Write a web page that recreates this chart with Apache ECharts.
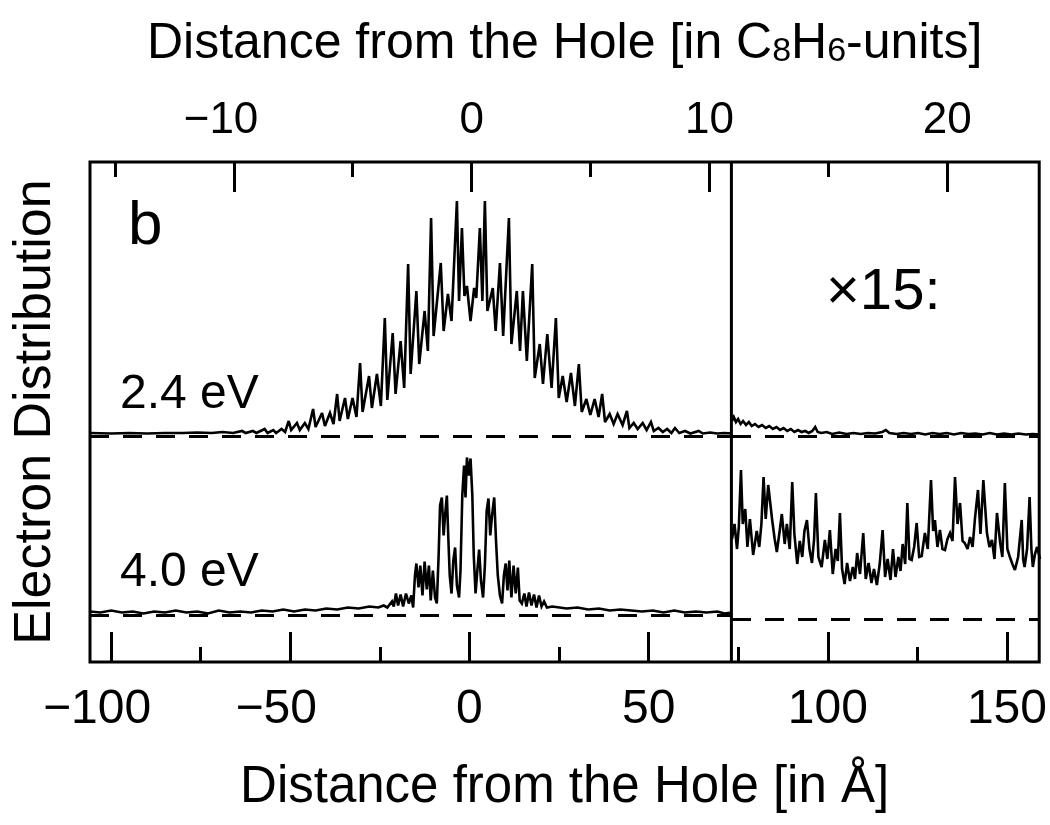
<!DOCTYPE html>
<html>
<head>
<meta charset="utf-8">
<script src="https://cdn.jsdelivr.net/npm/echarts@6.0.0/dist/echarts.min.js"></script>
<style>
html,body{margin:0;padding:0;background:#fff;}
#chart{width:1050px;height:825px;}
</style>
</head>
<body>
<div id="chart"></div>
<script>
// ---------- DATA ----------
// Distance axis range (Angstrom) and the boundary of the x15 magnified zone
const distanceRange = [-105.9, 159];
const dividerAngstrom = 73.1;
// C8H6-unit axis range (top axis)
const unitRange = [-16.05, 23.87];

const angstromMajorTicks = [-100, -50, 0, 50, 100, 150];
const angstromMinorTicks = [-75, -25, 25, 75, 125];
const unitMajorTicks = [-10, 0, 10, 20];
const unitMinorTicks = [-15, -5, 5, 15];

// 2.4 eV electron distribution (arb. units above its baseline), left part
const eV24Left = [
[-105.9,3],[-100,2.5],[-95,3],[-90,2.5],[-85,3],[-80,3],[-76,3.5],[-72,3],[-69,4],[-66,3],[-63.5,5],[-62.5,3],[-60.5,5],[-59.5,3],[-57.2,7],[-56.4,3],[-54.8,6],[-54,3],[-52.5,7],[-51.5,4],
[-50.5,15],[-49.8,6],[-48.2,13],[-47.4,6],[-46,13],[-45,7],
[-43.7,27],[-43,9],[-41.2,23],[-40.4,10],[-39,23],[-38,12],
[-37,42],[-36.3,15],[-34.8,38],[-34,17],[-32.7,38],[-31.6,19],
[-30.6,73],[-29.9,24],[-28.1,60],[-27.3,28],[-25.9,62],[-24.8,30],
[-23.7,118],[-23,36],[-21.5,103],[-20.7,42],[-19.3,95],[-18.3,48],
[-17.2,172],[-16.5,62],[-14.9,145],[-14.1,72],[-12.6,125],[-11.7,85],
[-10.8,218],[-10.1,100],[-8.1,173],[-7.3,105],[-6.1,142],[-5.1,115],
[-3.6,235],[-3.0,135],[-2.2,208],[-1.5,140],[-0.8,150],[0.2,115],[1.2,148],[1.8,138],[2.8,208],[3.5,135],[4.2,235],[4.9,125],
[6.4,148],[7.2,105],[8.4,173],[9.3,100],[10.9,218],[11.6,92],[13.1,145],[14.0,85],[14.8,145],[15.9,75],
[17.4,172],[18.1,58],[19.5,92],[20.4,52],[21.6,102],[22.8,48],
[24.0,118],[24.8,38],[25.9,60],[27.0,34],[28.2,63],[29.3,30],
[30.4,72],[31.2,24],[32.5,37],[33.6,21],[34.8,37],[35.9,19],
[36.9,42],[37.7,14],[39,22],[40.1,12],[41.2,22],[42.6,11],
[43.8,25],[44.5,8],[45.7,13],[46.8,7],[48.2,13],[49.3,6],
[50.5,14],[51.3,5],[52.6,8],[53.8,4],[55,7],[56.2,3],
[57.2,8],[58.4,3],[60,5],[61.5,2.5],[63.8,5],[65,2.5],[67,3.5],[69,2.5],[71,3],[73.1,2.5]
];

// 2.4 eV, right part as displayed (magnified x15)
const eV24RightX15 = [
[73.1,15],[73.6,19],[74.2,14],[74.8,17],[75.5,12],[76.2,15],[77,11],[77.8,14],[78.6,10],[79.5,12],[80.5,9],[81.5,11],[82.5,8],[83.5,10],[84.5,7],[85.5,9],[86.5,6],[87.5,8],[88.5,5],[89.5,7],[90.5,4],[91.5,6],[92.5,4],[93.5,5],[94.5,3],[95.5,5],[96.3,9],[97,4],[98,3],[99.5,4],[101,2],[103,3.5],[105,2],[107,3],[109,2],[111,3],[113,2.5],[115,4],[116,6],[117,3],[119,2],[121,3],[123,2],[125,3],[127,1.5],[129,3],[131,2],[133,3],[135,1.5],[137,3],[139,2],[141,2.5],[143,1.5],[145,3],[147,1.5],[149,2.5],[151,1.5],[153,2.5],[155,1.5],[157,2],[159,1.5]
];

// 4.0 eV electron distribution, left part
const eV40Left = [
[-105.9,4],[-103,3],[-100,5],[-97,3],[-94,4],[-91,2],[-88,4],[-85,3],[-82,5],[-79,3],[-76,4],[-73,2],[-70,5],[-67,3],[-64,4],[-61,3],[-58,5],[-55,4],[-52,6],[-49,4],[-46,6],[-43,5],[-40,7],[-37,6],[-34,8],[-31,7],[-28,9],[-25.5,8],[-24,10],[-23,8],
[-21.7,14],[-21.2,9],[-20.6,22],[-20.0,10],[-19.3,21],[-18.6,9],[-17.8,22],[-17.0,12],[-16.3,20],[-15.8,8],
[-15.3,40],[-14.9,52],[-14.3,28],[-13.8,50],[-13.2,20],[-12.6,54],[-12.0,26],[-11.4,50],[-10.9,15],[-10.3,45],[-9.7,18],[-9.2,12],
[-8.7,60],[-8.3,110],[-7.8,118],[-7.3,80],[-6.9,100],[-6.4,120],[-6.0,78],[-5.6,40],[-5.1,22],[-4.6,55],[-4.1,68],[-3.6,30],[-3.0,18],
[-2.6,45],[-2.1,120],[-1.6,150],[-1.2,118],[-0.8,158],[-0.3,140],[0.2,157],[0.7,120],[1.1,60],[1.6,22],[2.1,45],[2.6,66],[3.1,35],[3.7,18],
[4.2,50],[4.7,105],[5.2,117],[5.7,80],[6.2,100],[6.8,118],[7.3,75],[7.8,40],[8.4,20],[9.0,12],
[9.5,40],[10.0,52],[10.5,25],[11.0,55],[11.6,18],[12.2,50],[12.8,22],[13.4,48],[13.9,15],[14.5,12],
[15.2,22],[15.8,9],[16.5,23],[17.2,10],[17.9,21],[18.6,8],[19.3,20],[20.0,9],[20.7,14],[21.5,8],
[23,9],[25,8],[27,7],[30,8],[33,6],[36,7],[39,5],[42,6],[45,5],[48,4],[51,5],[54,3],[57,5],[60,3],[63,4],[66,3],[69,4],[71,2],[73.1,3]
];

// 4.0 eV, right part as displayed (magnified x15)
const eV40RightX15 = [
[73.1,80],[73.8,95],[74.5,70],[75.0,92],[75.6,149],[76.1,95],[76.8,110],[77.4,72],[78.1,100],[79.0,64],[80.0,88],[80.7,72],[81.3,95],[81.9,142],[82.5,100],[83.2,134],[84.3,99],[85.0,80],[85.6,67],[86.4,88],[87.0,105],[87.8,75],[88.4,95],[89.2,70],[89.9,137],[90.5,85],[91.3,55],[92.0,78],[92.7,62],[93.3,88],[94.0,99],[94.7,70],[95.4,56],[96.0,80],[96.5,126],[97.2,62],[98.1,52],[99.0,79],[99.7,60],[100.4,89],[101.2,45],[102.0,70],[102.6,58],[103.2,106],[103.8,50],[104.5,35],[105.2,56],[106.0,38],[106.8,52],[107.4,40],[108.0,66],[108.8,45],[109.7,86],[110.4,40],[111.2,56],[112.0,36],[112.7,50],[113.5,34],[114.3,55],[115.1,89],[115.8,42],[116.5,60],[117.3,39],[118.0,70],[118.7,42],[119.5,62],[120.1,48],[120.7,75],[121.4,55],[122.0,116],[122.6,60],[123.2,59],[123.9,72],[124.6,96],[125.3,62],[126.0,63],[126.9,86],[127.7,70],[128.6,139],[129.2,88],[129.7,99],[130.4,72],[131.1,89],[131.8,70],[132.5,69],[133.2,80],[133.9,86],[134.6,78],[135.3,142],[136.0,95],[136.7,116],[137.4,78],[138.0,76],[138.8,70],[139.5,82],[140.2,72],[140.9,102],[141.7,129],[142.4,85],[143.2,139],[144.2,86],[144.9,72],[145.6,79],[146.3,60],[147.0,106],[147.9,76],[148.5,62],[149.2,136],[149.9,70],[150.6,62],[151.3,55],[152.0,49],[152.9,62],[153.9,99],[154.3,60],[154.7,52],[155.4,70],[156.1,122],[156.6,70],[157.0,52],[157.6,65],[158.2,72],[159,60]
];

// ---------- CHART ----------
const FONT = 'Liberation Sans';
const chart = echarts.init(document.getElementById('chart'), null, {renderer: 'canvas'});

function negLabel(v) {
  return v < 0 ? '\u2212' + Math.abs(v) + '{g|\u2212}' : String(v);
}

const hiddenX = (grid, min, max) => ({type: 'value', gridIndex: grid, min, max, show: false});
const hiddenY = (grid, min, max) => ({type: 'value', gridIndex: grid, min, max, show: false});

const dashed = {
  silent: true, symbol: 'none', label: {show: false},
  lineStyle: {type: [19, 14], color: '#000', width: 3},
  data: [{yAxis: 0}]
};

const traceStyle = {color: '#000', width: 2.6, join: 'miter', miterLimit: 3};
const tickStyle = {color: '#000', width: 3};

const option = {
  animation: false,
  backgroundColor: '#fff',
  textStyle: {fontFamily: FONT, color: '#000'},
  grid: [
    {left: 90, top: 162, width: 950, height: 500, show: true, borderColor: '#000', borderWidth: 3, backgroundColor: 'transparent'},
    {left: 90, top: 162, width: 642, height: 274},
    {left: 732, top: 162, width: 308, height: 274},
    {left: 90, top: 436, width: 642, height: 226},
    {left: 732, top: 436, width: 308, height: 226}
  ],
  xAxis: [
    {
      type: 'value', gridIndex: 0, position: 'bottom', min: distanceRange[0], max: distanceRange[1],
      axisLine: {show: false}, splitLine: {show: false},
      axisTick: {show: true, inside: true, length: 30, customValues: angstromMajorTicks, lineStyle: tickStyle},
      axisLabel: {customValues: angstromMajorTicks, formatter: negLabel, fontSize: 48, fontFamily: FONT, color: '#000', margin: 24,
        rich: {g: {color: 'transparent', fontSize: 48, fontFamily: FONT}}},
      name: 'Distance from the Hole [in \u00C5]', nameLocation: 'middle', nameGap: 100,
      nameTextStyle: {fontSize: 51, fontFamily: FONT, color: '#000'}
    },
    {
      type: 'value', gridIndex: 0, position: 'bottom', min: distanceRange[0], max: distanceRange[1],
      axisLine: {show: false}, splitLine: {show: false}, axisLabel: {show: false},
      axisTick: {show: true, inside: true, length: 15, customValues: angstromMinorTicks, lineStyle: tickStyle}
    },
    {
      type: 'value', gridIndex: 0, position: 'top', min: unitRange[0], max: unitRange[1],
      axisLine: {show: false}, splitLine: {show: false},
      axisTick: {show: true, inside: true, length: 30, customValues: unitMajorTicks, lineStyle: tickStyle},
      axisLabel: {customValues: unitMajorTicks, formatter: negLabel, fontSize: 44, fontFamily: FONT, color: '#000', margin: 19,
        rich: {g: {color: 'transparent', fontSize: 44, fontFamily: FONT}}},
      name: 'Distance from the Hole [in C{sub|8}H{sub|6}-units]', nameLocation: 'middle', nameGap: 93,
      nameTextStyle: {fontSize: 50, fontFamily: FONT, color: '#000',
        rich: {sub: {fontSize: 34, fontFamily: FONT, color: '#000', verticalAlign: 'bottom', lineHeight: 30}}}
    },
    {
      type: 'value', gridIndex: 0, position: 'top', min: unitRange[0], max: unitRange[1],
      axisLine: {show: false}, splitLine: {show: false}, axisLabel: {show: false},
      axisTick: {show: true, inside: true, length: 15, customValues: unitMinorTicks, lineStyle: tickStyle}
    },
    hiddenX(1, distanceRange[0], dividerAngstrom),
    hiddenX(2, dividerAngstrom, distanceRange[1]),
    hiddenX(3, distanceRange[0], dividerAngstrom),
    hiddenX(4, dividerAngstrom, distanceRange[1])
  ],
  yAxis: [
    {
      type: 'value', gridIndex: 0, min: 0, max: 1,
      axisLine: {show: false}, axisTick: {show: false}, axisLabel: {show: false}, splitLine: {show: false},
      name: 'Electron Distribution', nameLocation: 'middle', nameGap: 28, nameRotate: 90,
      nameTextStyle: {fontSize: 52, fontFamily: FONT, color: '#000'}
    },
    hiddenY(1, 0, 274),
    hiddenY(2, 0, 274),
    hiddenY(3, -46.5, 179.5),
    hiddenY(4, -43, 183)
  ],
  graphic: [
    {type: 'text', left: 128, top: 196, style: {text: 'b', fontSize: 62, fontFamily: FONT, fill: '#000'}},
    {type: 'text', left: 120, top: 371, style: {text: '2.4 eV', fontSize: 48, fontFamily: FONT, fill: '#000'}},
    {type: 'text', left: 120, top: 549, style: {text: '4.0 eV', fontSize: 48, fontFamily: FONT, fill: '#000'}},
    {type: 'text', left: 826, top: 264, style: {text: '\u00D715:', fontSize: 58, fontFamily: FONT, fill: '#000'}}
  ],
  series: [
    {
      name: 'divider', type: 'line', xAxisIndex: 0, yAxisIndex: 0, symbol: 'none', silent: true,
      data: [[dividerAngstrom, 0], [dividerAngstrom, 1]],
      lineStyle: {color: '#000', width: 3}
    },
    {name: '2.4 eV', type: 'line', xAxisIndex: 4, yAxisIndex: 1, symbol: 'none', data: eV24Left, lineStyle: traceStyle, markLine: dashed},
    {name: '2.4 eV x15', type: 'line', xAxisIndex: 5, yAxisIndex: 2, symbol: 'none', data: eV24RightX15, lineStyle: traceStyle, markLine: dashed},
    {name: '4.0 eV', type: 'line', xAxisIndex: 6, yAxisIndex: 3, symbol: 'none', data: eV40Left, lineStyle: traceStyle, markLine: dashed},
    {name: '4.0 eV x15', type: 'line', xAxisIndex: 7, yAxisIndex: 4, symbol: 'none', data: eV40RightX15, lineStyle: traceStyle, markLine: dashed}
  ]
};
chart.setOption(option);
</script>
</body>
</html>
